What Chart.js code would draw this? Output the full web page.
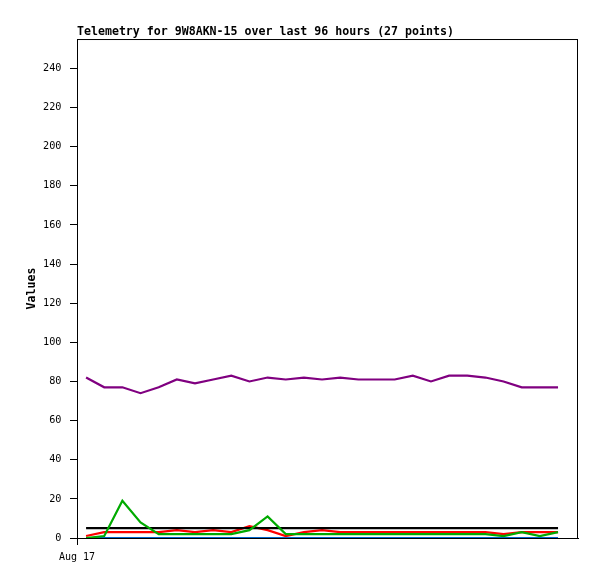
<!DOCTYPE html>
<html>
<head>
<meta charset="utf-8">
<title>Telemetry 9W8AKN-15</title>
<script src="https://cdn.jsdelivr.net/npm/chart.js@4/dist/chart.umd.min.js"></script>
<style>
    body { margin: 0; background: #fff; }
    canvas { display: block; }
</style>
</head>
<body>
<canvas id="telemetryChart" width="597" height="579"></canvas>
<script>

// values per channel, 27 points over 96 hours
const purpleValues = [82, 77, 77, 74, 77, 81, 79, 81, 83, 80, 82, 81, 82, 81, 82, 81, 81, 81, 83, 80, 83, 83, 82, 80, 77, 77, 77];
const blackValues = [5, 5, 5, 5, 5, 5, 5, 5, 5, 5, 5, 5, 5, 5, 5, 5, 5, 5, 5, 5, 5, 5, 5, 5, 5, 5, 5];
const greenValues = [0, 1, 19, 8, 2, 2, 2, 2, 2, 4, 11, 2, 2, 2, 2, 2, 2, 2, 2, 2, 2, 2, 2, 1, 3, 1, 3];
const redValues = [1, 3, 3, 3, 3, 4, 3, 4, 3, 6, 4, 1, 3, 4, 3, 3, 3, 3, 3, 3, 3, 3, 3, 2, 3, 3, 3];
const blueValues = [0, 0, 0, 0, 0, 0, 0, 0, 0, 0, 0, 0, 0, 0, 0, 0, 0, 0, 0, 0, 0, 0, 0, 0, 0, 0, 0];

const yTicks = [0, 20, 40, 60, 80, 100, 120, 140, 160, 180, 200, 220, 240];
const xTicks = [-0.5];
const xTickLabels = ["Aug 17"];

const titleText = "Telemetry for 9W8AKN-15 over last 96 hours (27 points)";

function toPoints(values) {
    return values.map((v, i) => ({ x: i, y: v }));
}

function series(values, color) {
    return {
        data: toPoints(values),
        borderColor: color,
        backgroundColor: color,
        borderWidth: 2.2,
        pointRadius: 0,
        tension: 0,
        fill: false
    };
}

// frame around the plot area
const frameBox = {
    id: "frameBox",
    afterDraw(chart) {
        const a = chart.chartArea;
        const c = chart.ctx;
        c.save();
        c.strokeStyle = "#000";
        c.lineWidth = 1;
        c.strokeRect(a.left + 0.5, a.top + 0.5, a.right - a.left - 1, a.bottom - a.top);
        c.restore();
    }
};

const monoFont = "'DejaVu Sans Mono', 'Liberation Mono', monospace";

function createChart() {

    const ctx =
        document
            .getElementById("telemetryChart");

    new Chart(ctx, {

        type: "line",

        data: {
            datasets: [
                series(greenValues, "#00aa00"),
                series(blackValues, "#000000"),
                series(redValues, "#ff0000"),
                series(purpleValues, "#800080"),
                series(blueValues, "#0066cc")
            ]
        },

        options: {
            responsive: false,
            animation: false,
            layout: {
                padding: { top: 0, right: 19, bottom: 0, left: 0 }
            },
            plugins: {
                legend: { display: false },
                tooltip: { enabled: false },
                title: {
                    display: true,
                    text: titleText,
                    align: "start",
                    fullSize: false,
                    color: "#000",
                    font: { family: monoFont, size: 11.6, weight: "bold", lineHeight: 1.2 },
                    padding: { top: 25, bottom: 0.1 }
                }
            },
            scales: {
                x: {
                    type: "linear",
                    min: -0.5,
                    max: 27.1,
                    afterFit(scale) {
                        scale.height = 41;
                    },
                    afterBuildTicks(scale) {
                        scale.ticks = xTicks.map(v => ({ value: v }));
                    },
                    ticks: {
                        color: "#000",
                        font: { family: monoFont, size: 10 },
                        padding: 6,
                        maxRotation: 0,
                        callback: (value, index) => xTickLabels[index]
                    },
                    grid: {
                        drawOnChartArea: false,
                        drawTicks: true,
                        tickLength: 7,
                        color: "#000"
                    },
                    border: { display: true, color: "#000", width: 1 }
                },
                y: {
                    min: 0,
                    max: 255,
                    afterFit(scale) {
                        scale.width = 77;
                    },
                    afterBuildTicks(scale) {
                        scale.ticks = yTicks.map(v => ({ value: v }));
                    },
                    ticks: {
                        color: "#000",
                        font: { family: monoFont, size: 10.2 },
                        padding: 8.5
                    },
                    grid: {
                        drawOnChartArea: false,
                        drawTicks: true,
                        tickLength: 7,
                        color: "#000"
                    },
                    border: { display: true, color: "#000", width: 1 },
                    title: {
                        display: true,
                        text: "Values",
                        color: "#000",
                        font: { family: monoFont, size: 11.6, weight: "bold", lineHeight: 1.2 },
                        padding: { top: 25, bottom: 0 }
                    }
                }
            }
        },

        plugins: [frameBox]
    });
}

createChart();
</script>
</body>
</html>
